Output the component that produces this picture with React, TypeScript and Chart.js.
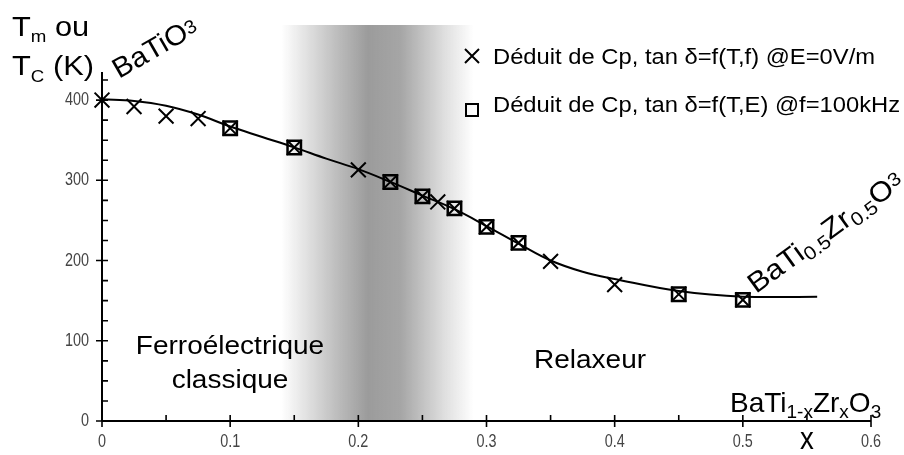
import React, { useEffect, useRef } from "react";
import { Chart, registerables } from "chart.js";

Chart.register(...registerables);

// Fitted curve
const curveX = [0, 0.025, 0.05, 0.075, 0.1, 0.125, 0.15, 0.175, 0.2, 0.225, 0.25, 0.275, 0.3, 0.325, 0.35, 0.375, 0.4, 0.45, 0.5, 0.558];
const curveT = [401, 399, 393, 382, 367, 354, 341, 327, 314, 298, 281, 264, 243, 221, 200, 186, 177, 162, 155, 155];

// "×" series: Cp, tan δ = f(T,f) @E=0V/m
const crossX = [0, 0.025, 0.05, 0.075, 0.1, 0.15, 0.2, 0.225, 0.25, 0.262, 0.275, 0.3, 0.325, 0.35, 0.4, 0.45, 0.5];
const crossT = [400, 392, 380, 377, 365, 341, 313, 298, 280, 273, 265, 242, 222, 199, 170, 158, 151];

// "□" series: Cp, tan δ = f(T,E) @f=100kHz
const squareX = [0.1, 0.15, 0.225, 0.25, 0.275, 0.3, 0.325, 0.45, 0.5];
const squareT = [365, 341, 298, 280, 265, 242, 222, 158, 151];

// Axes
const xMajorTicks = [0, 0.1, 0.2, 0.3, 0.4, 0.5, 0.6];
const xTickLabels = ["0", "0.1", "0.2", "0.3", "0.4", "0.5", "0.6"];
const xMinorTicks = [0.05, 0.15, 0.25, 0.35, 0.45, 0.55];
const yMajorTicks = [0, 100, 200, 300, 400];
const yTickLabels = ["0", "100", "200", "300", "400"];
const yMinorTicks = [25, 50, 75, 125, 150, 175, 225, 250, 275, 325, 350, 375, 425];

const legendLabels = [
  "Déduit de Cp, tan δ=f(T,f) @E=0V/m",
  "Déduit de Cp, tan δ=f(T,E) @f=100kHz",
];

const FONT = '"Liberation Sans", Arial, sans-serif';

type Part = { t: string; size: number; dy?: number };

function drawRich(ctx: CanvasRenderingContext2D, parts: Part[], x: number, y: number, sx = 1) {
  ctx.save();
  ctx.translate(x, y);
  ctx.scale(sx, 1);
  ctx.textAlign = "left";
  let cx = 0;
  for (const p of parts) {
    ctx.font = `${p.size}px ${FONT}`;
    ctx.fillText(p.t, cx, p.dy || 0);
    cx += ctx.measureText(p.t).width;
  }
  ctx.restore();
}

function drawText(ctx: CanvasRenderingContext2D, t: string, size: number, x: number, y: number, sx: number, align: CanvasTextAlign) {
  ctx.save();
  ctx.translate(x, y);
  ctx.scale(sx, 1);
  ctx.font = `${size}px ${FONT}`;
  ctx.textAlign = align;
  ctx.fillText(t, 0, 0);
  ctx.restore();
}

const bgPlugin = {
  id: "bg",
  beforeDatasetsDraw(chart: any) {
    const ctx: CanvasRenderingContext2D = chart.ctx;
    const xs = chart.scales.x;
    const ys = chart.scales.y;
    const y0 = ys.getPixelForValue(0);
    // gradient band
    const a = xs.getPixelForValue(0.14);
    const b = xs.getPixelForValue(0.29);
    const g = ctx.createLinearGradient(a, 0, b, 0);
    g.addColorStop(0, "rgba(150,150,150,0)");
    g.addColorStop(0.3, "rgba(150,150,150,0.65)");
    g.addColorStop(0.45, "rgba(150,150,150,0.95)");
    g.addColorStop(0.62, "rgba(150,150,150,0.85)");
    g.addColorStop(0.85, "rgba(150,150,150,0.3)");
    g.addColorStop(1, "rgba(150,150,150,0)");
    ctx.save();
    ctx.fillStyle = g;
    ctx.fillRect(a, 25, b - a, y0 - 25);
    ctx.restore();

    // axes
    ctx.save();
    ctx.strokeStyle = "#000";
    ctx.lineWidth = 2;
    const xL = xs.getPixelForValue(0);
    const xR = xs.getPixelForValue(0.6);
    const yTop = ys.getPixelForValue(ys.max);
    ctx.beginPath();
    ctx.moveTo(xL, y0);
    ctx.lineTo(xR, y0);
    ctx.moveTo(xL, y0);
    ctx.lineTo(xL, yTop);
    ctx.stroke();
    ctx.lineWidth = 1.6;
    ctx.beginPath();
    for (const v of xMajorTicks) {
      const px = xs.getPixelForValue(v);
      ctx.moveTo(px, y0 - 6);
      ctx.lineTo(px, y0 + 6);
    }
    for (const v of xMinorTicks) {
      const px = xs.getPixelForValue(v);
      ctx.moveTo(px, y0 - 6);
      ctx.lineTo(px, y0);
    }
    for (const v of yMajorTicks) {
      const py = ys.getPixelForValue(v);
      ctx.moveTo(xL - 6, py);
      ctx.lineTo(xL + 6, py);
    }
    for (const v of yMinorTicks) {
      const py = ys.getPixelForValue(v);
      ctx.moveTo(xL, py);
      ctx.lineTo(xL + 6, py);
    }
    ctx.stroke();

    // tick labels (slightly condensed)
    ctx.fillStyle = "#444";
    ctx.textBaseline = "middle";
    xMajorTicks.forEach((v, i) => {
      drawText(ctx, xTickLabels[i], 18, xs.getPixelForValue(v), y0 + 21, 0.8, "center");
    });
    yMajorTicks.forEach((v, i) => {
      drawText(ctx, yTickLabels[i], 18, xL - 13, ys.getPixelForValue(v), 0.8, "right");
    });
    ctx.restore();
  },
};

const fgPlugin = {
  id: "fg",
  afterDatasetsDraw(chart: any) {
    const ctx: CanvasRenderingContext2D = chart.ctx;
    const xs = chart.scales.x;
    ctx.save();
    ctx.fillStyle = "#000";
    ctx.textBaseline = "alphabetic";

    // Y axis title
    drawRich(ctx, [{ t: "T", size: 28 }, { t: "m", size: 17, dy: 6 }, { t: " ou", size: 28 }], 12, 36, 1.1);
    drawRich(ctx, [{ t: "T", size: 28 }, { t: "C", size: 17, dy: 7 }, { t: " (K)", size: 28 }], 12, 75, 1.1);

    // BaTiO3 rotated
    ctx.save();
    ctx.translate(119, 79);
    ctx.rotate((-30 * Math.PI) / 180);
    drawRich(ctx, [{ t: "BaTiO", size: 28 }, { t: "3", size: 19, dy: -3 }], 0, 0, 1.05);
    ctx.restore();

    // BaTi0.5Zr0.5O3 rotated
    ctx.save();
    ctx.translate(756, 294);
    ctx.rotate((-36 * Math.PI) / 180);
    drawRich(
      ctx,
      [
        { t: "BaTi", size: 28 },
        { t: "0.5", size: 19, dy: 5 },
        { t: "Zr", size: 28 },
        { t: "0.5", size: 19, dy: 5 },
        { t: "O", size: 28 },
        { t: "3", size: 19, dy: -5 },
      ],
      0,
      0,
      1.1
    );
    ctx.restore();

    // region labels
    drawText(ctx, "Ferroélectrique", 25, 230, 354, 1.12, "center");
    drawText(ctx, "classique", 25, 230, 388, 1.12, "center");
    drawText(ctx, "Relaxeur", 25, 590, 368, 1.12, "center");

    // composition label
    drawRich(
      ctx,
      [
        { t: "BaTi", size: 28 },
        { t: "1-x", size: 19, dy: 6 },
        { t: "Zr", size: 28 },
        { t: "x", size: 19, dy: 6 },
        { t: "O", size: 28 },
        { t: "3", size: 19, dy: 6 },
      ],
      730,
      412
    );

    // x label
    ctx.save();
    ctx.translate(xs.getPixelForValue(0.55), 449);
    ctx.scale(1.15, 1.3);
    ctx.font = `24px ${FONT}`;
    ctx.textAlign = "center";
    ctx.fillText("x", 0, 0);
    ctx.restore();

    // legend
    ctx.strokeStyle = "#000";
    ctx.lineWidth = 2;
    ctx.beginPath();
    ctx.moveTo(465, 49);
    ctx.lineTo(479, 63);
    ctx.moveTo(479, 49);
    ctx.lineTo(465, 63);
    ctx.stroke();
    ctx.strokeRect(466, 104, 12, 12);
    drawText(ctx, legendLabels[0], 22, 493, 64, 1.08, "left");
    drawText(ctx, legendLabels[1], 22, 493, 112, 1.08, "left");
    ctx.restore();
  },
};

export default function App() {
  const ref = useRef<HTMLCanvasElement>(null);
  useEffect(() => {
    const prev = document.body.style.margin;
    document.body.style.margin = "0";
    const chart = new Chart(ref.current as HTMLCanvasElement, {
      type: "scatter",
      data: {
        datasets: [
          {
            label: "fit",
            data: curveX.map((x, i) => ({ x, y: curveT[i] })),
            showLine: true,
            borderColor: "#000",
            borderWidth: 2,
            pointRadius: 0,
            tension: 0.4,
            clip: false,
          } as any,
          {
            label: legendLabels[0],
            data: crossX.map((x, i) => ({ x, y: crossT[i] })),
            pointStyle: "crossRot",
            pointRadius: 10.5,
            borderColor: "#000",
            borderWidth: 2,
            showLine: false,
            clip: false,
          } as any,
          {
            label: legendLabels[1],
            data: squareX.map((x, i) => ({ x, y: squareT[i] })),
            pointStyle: "rect",
            pointRadius: 9.5,
            borderColor: "#000",
            borderWidth: 2.5,
            backgroundColor: "rgba(0,0,0,0)",
            showLine: false,
            clip: false,
          } as any,
        ],
      },
      options: {
        responsive: false,
        animation: false,
        layout: { padding: { left: 102, right: 33, top: 72, bottom: 34 } },
        scales: {
          x: { type: "linear", min: 0, max: 0.6, display: false },
          y: { type: "linear", min: 0, max: 435, display: false },
        },
        plugins: { legend: { display: false }, tooltip: { enabled: false } },
      },
      plugins: [bgPlugin, fgPlugin],
    });
    return () => {
      chart.destroy();
      document.body.style.margin = prev;
    };
  }, []);
  return <canvas ref={ref} width={904} height={455} style={{ display: "block" }} />;
}
